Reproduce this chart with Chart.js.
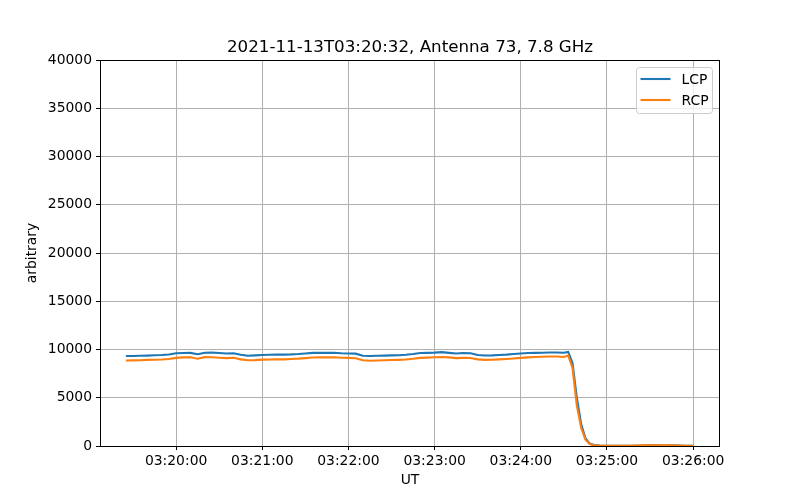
<!DOCTYPE html>
<html><head><meta charset="utf-8">
<script src="https://cdn.jsdelivr.net/npm/chart.js@4.4.0/dist/chart.umd.min.js"></script>
<style>html,body{margin:0;padding:0;background:#fff}#wrap{width:800px;height:500px}</style>
</head><body><div id="wrap"><canvas id="c" width="800" height="500"></canvas></div>
<script>
const chartTitle = "2021-11-13T03:20:32, Antenna 73, 7.8 GHz";
const times = [
"03:19:25","03:19:30","03:19:35","03:19:40","03:19:45","03:19:50","03:19:55",
"03:20:00","03:20:05","03:20:10","03:20:15","03:20:20","03:20:25","03:20:30","03:20:35","03:20:40","03:20:45","03:20:50","03:20:55",
"03:21:00","03:21:05","03:21:10","03:21:15","03:21:20","03:21:25","03:21:30","03:21:35","03:21:40","03:21:45","03:21:50","03:21:55",
"03:22:00","03:22:05","03:22:10","03:22:15","03:22:20","03:22:25","03:22:30","03:22:35","03:22:40","03:22:45","03:22:50","03:22:55",
"03:23:00","03:23:05","03:23:10","03:23:15","03:23:20","03:23:25","03:23:30","03:23:35","03:23:40","03:23:45","03:23:50","03:23:55",
"03:24:00","03:24:05","03:24:10","03:24:15","03:24:20","03:24:25","03:24:30",
"03:24:33","03:24:36","03:24:39","03:24:42","03:24:45","03:24:48","03:24:51","03:24:55",
"03:25:00","03:25:05","03:25:10","03:25:15","03:25:20","03:25:25","03:25:30","03:25:35","03:25:40","03:25:45","03:25:50","03:25:55","03:26:00"
];
const lcp = [
9330,9330,9350,9370,9400,9430,9480,
9610,9640,9650,9510,9670,9680,9630,9590,9610,9450,9360,9390,
9430,9450,9470,9470,9490,9530,9590,9650,9670,9650,9660,9610,
9590,9570,9350,9330,9350,9370,9390,9410,9450,9530,9630,9650,
9680,9730,9650,9580,9630,9610,9430,9380,9390,9430,9470,9530,
9590,9630,9650,9670,9690,9690,9670,
9750,8600,5000,2300,800,250,100,40,
20,10,10,20,30,50,60,60,50,60,40,20,10
];
const rcp = [
8860,8870,8890,8920,8940,8960,9010,
9130,9180,9190,9050,9210,9200,9150,9110,9140,8980,8880,8900,
8950,8970,8980,8980,9010,9050,9110,9170,9200,9180,9200,9140,
9130,9090,8880,8830,8860,8890,8910,8930,8960,9040,9130,9160,
9190,9230,9180,9110,9130,9120,8980,8930,8940,8980,9020,9070,
9130,9180,9230,9250,9270,9270,9230,
9380,8100,4200,1900,650,200,80,30,
20,10,10,20,40,60,70,70,60,70,50,30,20
];
const xTickLabels = ["03:20:00","03:21:00","03:22:00","03:23:00","03:24:00","03:25:00","03:26:00"];
const yTickValues = [0,5000,10000,15000,20000,25000,30000,35000,40000];
const seriesNames = ["LCP","RCP"];
const seriesColors = ["#1f77b4","#ff7f0e"];

function toSec(s){ const p = s.split(":").map(Number); return (p[0]*3600+p[1]*60+p[2]) - (3*3600+20*60); }

const FONT = "DejaVu Sans";
Chart.defaults.font.family = FONT;
Chart.defaults.font.size = 13.9;
Chart.defaults.color = "#000";

const bgPlugin = {
  id:'bg',
  beforeDraw(chart){ const c=chart.ctx; c.save(); c.fillStyle='#fff'; c.fillRect(0,0,chart.width,chart.height); c.restore(); }
};
const framePlugin = {
  id:'frame',
  afterDraw(chart){
    const c = chart.ctx, a = chart.chartArea;
    c.save();
    c.strokeStyle = '#000'; c.lineWidth = 1;
    c.strokeRect(a.left+0.5, a.top+0.5, a.right-a.left-1, a.bottom-a.top);
    c.fillStyle = '#000'; c.font = '16.7px "' + FONT + '"';
    c.textAlign = 'center'; c.textBaseline = 'alphabetic';
    c.fillText(chartTitle, (a.left+a.right)/2, a.top - 8.3);
    const bw = 76, bh = 46;
    const bx = a.right - 7.5 - bw, by = a.top + 7.5;
    c.beginPath();
    if (c.roundRect) c.roundRect(bx, by, bw, bh, 3); else c.rect(bx, by, bw, bh);
    c.fillStyle = 'rgba(255,255,255,0.8)'; c.fill();
    c.strokeStyle = '#cccccc'; c.lineWidth = 1; c.stroke();
    c.font = '13.9px "' + FONT + '"'; c.textAlign = 'left'; c.textBaseline = 'middle';
    for (let i=0;i<seriesNames.length;i++){
      const y = by + 11.5 + i*21;
      c.beginPath(); c.moveTo(bx+4, y); c.lineTo(bx+34, y);
      c.strokeStyle = seriesColors[i]; c.lineWidth = 2.1; c.stroke();
      c.fillStyle = '#000'; c.fillText(seriesNames[i], bx+45, y+1);
    }
    c.restore();
  }
};

const gridOpts = {color:'#b0b0b0', lineWidth:1, tickColor:'#000', tickLength:4, tickWidth:1};

new Chart(document.getElementById('c'), {
  type:'line',
  data:{
    datasets:[
      {label:seriesNames[0], data: times.map((t,i)=>({x:toSec(t), y:lcp[i]})), borderColor:seriesColors[0], borderWidth:2.1, pointRadius:0, tension:0, fill:false, order:1},
      {label:seriesNames[1], data: times.map((t,i)=>({x:toSec(t), y:rcp[i]})), borderColor:seriesColors[1], borderWidth:2.1, pointRadius:0, tension:0, fill:false, order:0}
    ]
  },
  options:{
    responsive:false, animation:false, devicePixelRatio:1,
    layout:{padding:{left:20, right:80, top:60, bottom:7}},
    plugins:{legend:{display:false}, tooltip:{enabled:false}, title:{display:false}},
    scales:{
      x:{type:'linear', min:-53, max:378.7,
        afterBuildTicks: s => { s.ticks = xTickLabels.map(l => ({value: toSec(l)})); },
        ticks:{callback:(v,i)=>xTickLabels[i], padding:3, maxRotation:0, autoSkip:false, color:'#000'},
        grid:gridOpts, border:{display:false},
        title:{display:true, text:'UT', color:'#000', padding:{top:4,bottom:4}},
        afterFit: s => { s.height = 47; }
      },
      y:{type:'linear', min:0, max:40000,
        afterBuildTicks: s => { s.ticks = yTickValues.map(v => ({value:v})); },
        ticks:{callback:(v,i)=>String(yTickValues[i]), padding:4, color:'#000'},
        grid:gridOpts, border:{display:false},
        title:{display:true, text:'arbitrary', color:'#000', padding:{top:4,bottom:4}},
        afterFit: s => { s.width = 80; }
      }
    }
  },
  plugins:[bgPlugin, framePlugin]
});
</script>
</body></html>
